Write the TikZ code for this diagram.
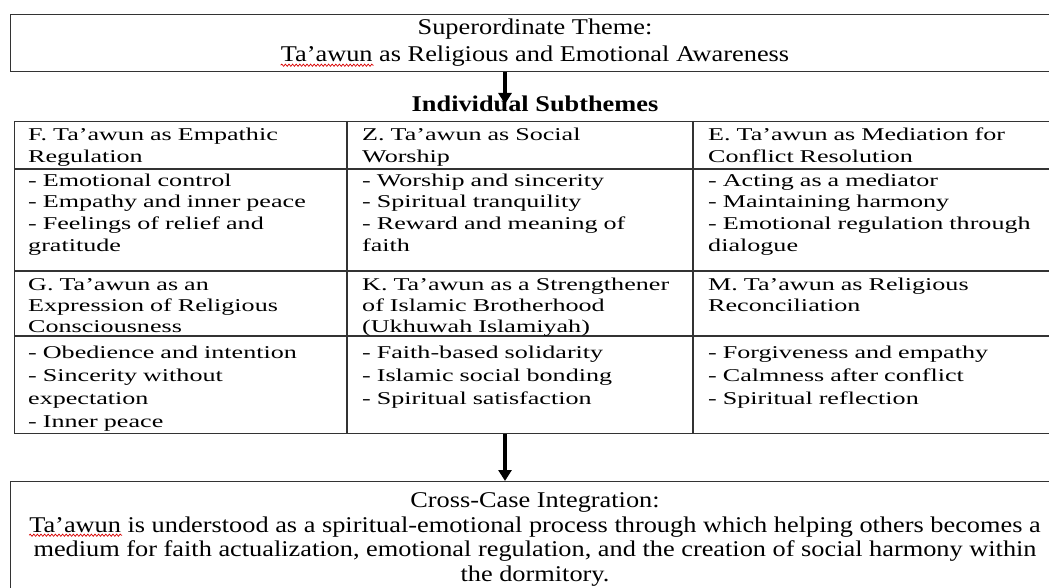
\documentclass[tikz,border=0pt]{standalone}
\usepackage{fontspec}
\setmainfont{Liberation Serif}
\newfontfamily\boxfont{Liberation Serif}[FakeStretch=1.17]
\newfontfamily\tabfont{Liberation Serif}[FakeStretch=1.45]
\usetikzlibrary{arrows.meta,decorations.pathmorphing}
\begin{document}
\begin{tikzpicture}[x=1pt,y=-1pt,
  frame/.style={draw=black!80, line width=1.2pt, inner sep=0pt, anchor=north west},
  rule/.style={draw=black!80, line width=1.2pt},
  boxtxt/.style={anchor=base, inner sep=0pt, text=black, font=\boxfont\fontsize{22.5}{27}\selectfont},
  cell/.style={anchor=base west, inner sep=0pt, align=left, text width=345pt, text=black,
    font=\tabfont\fontsize{18}{#1}\selectfont},
  cell/.default=22,
  arr/.style={draw=black, line width=3.4pt, -{Triangle[length=11pt,width=13pt]}},
  spell/.style={draw=red!85!black, line width=0.7pt, decorate,
    decoration={snake, amplitude=1.1pt, segment length=3.6pt}}]
\useasboundingbox (0,0) rectangle (1049,588);
\clip (0,0) rectangle (1049,588);
\fill[white] (0,0) rectangle (1049,588);

% top box
\node[frame, minimum width=1050pt, minimum height=57pt] (sup) at (10,14) {};
\node[boxtxt] (sup1) at (535,35) {Superordinate Theme:};
\node[boxtxt] (sup2) at (535,62) {Ta’awun as Religious and Emotional Awareness};
\draw[spell] ([yshift=-3.2pt]sup2.base west) -- ++(93,0);

% heading
\node[boxtxt, font=\boxfont\bfseries\fontsize{22.5}{27}\selectfont] (head) at (535,112) {Individual Subthemes};
\coordinate (t1) at (505,104);
\draw[arr] (sup.south -| t1) -- (t1);

% table
\node[frame, minimum width=1046pt, minimum height=312pt] (tbl) at (14,121) {};
\coordinate (h1) at (0,169);
\coordinate (h2) at (0,271);
\coordinate (h3) at (0,336);
\coordinate (v1) at (347,0);
\coordinate (v2) at (693,0);
\foreach \h in {h1,h2,h3} \draw[rule] (tbl.west |- \h) -- (tbl.east |- \h);
\foreach \v in {v1,v2} \draw[rule] (\v |- tbl.north) -- (\v |- tbl.south);

\node[cell=22] (c11) at (28,141) {F. Ta’awun as Empathic\\Regulation};
\node[cell=22] (c12) at (362,141) {Z. Ta’awun as Social\\Worship};
\node[cell=22] (c13) at (708,141) {E. Ta’awun as Mediation for\\Conflict Resolution};

\node[cell=21.8] (c21) at (28,186) {- Emotional control\\- Empathy and inner peace\\- Feelings of relief and\\gratitude};
\node[cell=21.8] (c22) at (362,186) {- Worship and sincerity\\- Spiritual tranquility\\- Reward and meaning of\\faith};
\node[cell=21.8] (c23) at (708,186) {- Acting as a mediator\\- Maintaining harmony\\- Emotional regulation through\\dialogue};

\node[cell=21] (c31) at (28,290) {G. Ta’awun as an\\Expression of Religious\\Consciousness};
\node[cell=21] (c32) at (362,290) {K. Ta’awun as a Strengthener\\of Islamic Brotherhood\\(Ukhuwah Islamiyah)};
\node[cell=21] (c33) at (708,290) {M. Ta’awun as Religious\\Reconciliation};

\node[cell=23.2] (c41) at (28,358) {- Obedience and intention\\- Sincerity without\\expectation\\- Inner peace};
\node[cell=23.2] (c42) at (362,358) {- Faith-based solidarity\\- Islamic social bonding\\- Spiritual satisfaction};
\node[cell=23.2] (c43) at (708,358) {- Forgiveness and empathy\\- Calmness after conflict\\- Spiritual reflection};

% bottom box
\node[frame, minimum width=1050pt, minimum height=130pt] (cci) at (10,481) {};
\coordinate (a2) at (505,0);
\draw[arr] (tbl.south -| a2) -- (cci.north -| a2);
\node[boxtxt] (cci1) at (535,507) {Cross-Case Integration:};
\node[boxtxt] (cci2) at (535,532) {Ta’awun is understood as a spiritual-emotional process through which helping others becomes a};
\node[boxtxt] (cci3) at (535,556) {medium for faith actualization, emotional regulation, and the creation of social harmony within};
\node[boxtxt] (cci4) at (535,581) {the dormitory.};
\draw[spell] ([yshift=-3.2pt]cci2.base west) -- ++(93,0);
\end{tikzpicture}
\end{document}
